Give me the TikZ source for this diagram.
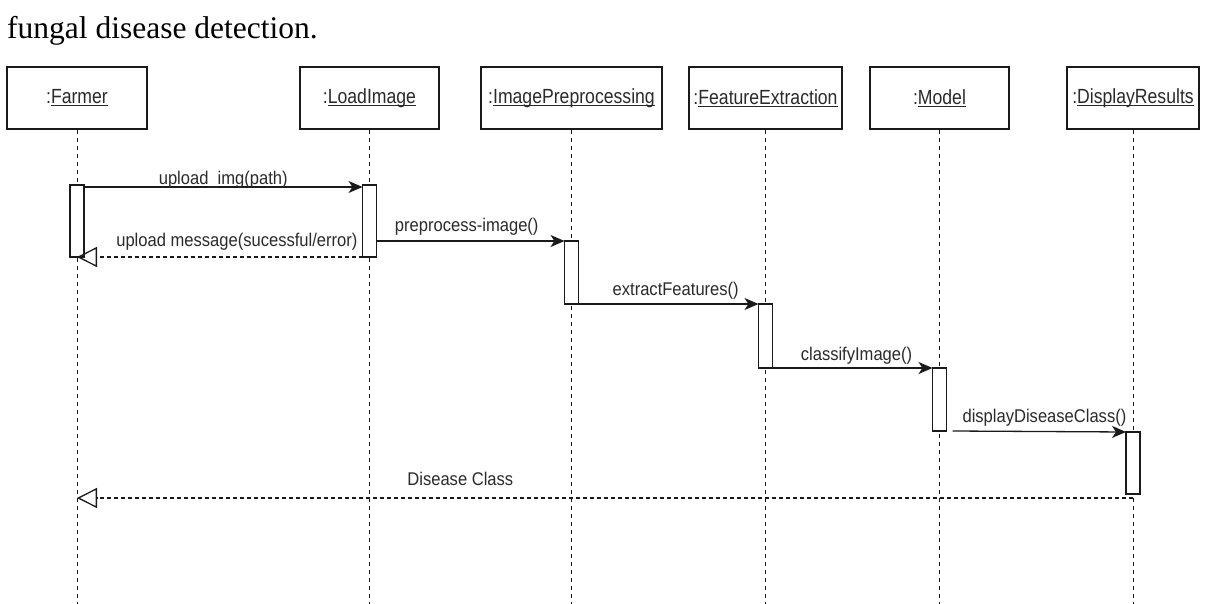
\documentclass[tikz,border=0pt]{standalone}
\usepackage{fontspec}
\setmainfont{Liberation Serif}
\newfontfamily\hsans[FakeStretch=0.86]{Liberation Sans}
\newfontfamily\msans[FakeStretch=0.9]{Liberation Sans}
\usetikzlibrary{arrows.meta}
\definecolor{txt}{HTML}{2A2A2A}
\definecolor{ln}{HTML}{1A1A1A}
\newcommand\myul[1]{\setbox0\hbox{#1}\rlap{\color{txt}\rule[-2.6pt]{\wd0}{1.1pt}}\box0}
\begin{document}
\begin{tikzpicture}[x=1pt,y=-1pt,
 head/.style={draw=ln, line width=1.4pt, fill=white, minimum height=62pt, inner sep=0pt, text=txt, font=\hsans\fontsize{20.5}{24}\selectfont},
 life/.style={draw=ln, line width=1pt, dash pattern=on 4pt off 4pt},
 act/.style={draw=ln, line width=1.3pt, fill=white, minimum width=14pt, inner sep=0pt, outer sep=0pt, anchor=north},
 msg/.style={draw=ln, line width=1.3pt, -{Stealth[length=14pt,width=12pt,inset=4pt]}},
 ret/.style={draw=ln, line width=1.1pt, dash pattern=on 4pt off 3pt, -{Triangle[open,length=20pt,width=20pt,line width=1.3pt]}},
 lbl/.style={text=txt, font=\msans\fontsize{18.4}{22}\selectfont, inner sep=0pt, anchor=base},
]
\useasboundingbox (0,0) rectangle (1205,604);
\coordinate (bot) at (0,604);

\node[anchor=base west, inner sep=0pt, font=\fontsize{31.5}{36}\selectfont] (title) at (7,39) {fungal disease detection.};

\node[head, minimum width=140pt] (farmer) at (77,98) {:\myul{Farmer}};
\node[head, minimum width=139pt] (load) at (369.5,98) {:\myul{LoadImage}};
\node[head, minimum width=181pt] (prep) at (571.5,98) {:\myul{ImagePreprocessing}};
\node[head, minimum width=153pt] (feat) at (765.5,98) {:\myul{FeatureExtraction}};
\node[head, minimum width=139pt] (model) at (939.5,98) {:\myul{Model}};
\node[head, minimum width=132pt] (disp) at (1133,98) {:\myul{DisplayResults}};

\foreach \n in {farmer,load,prep,feat,model,disp}
  \draw[life] (\n.south) -- (\n.south |- bot);

\node[act, minimum height=72pt] (afarm) at (77,185) {};
\node[act, minimum height=72pt] (aload) at (369.5,185) {};
\node[act, minimum height=63pt] (aprep) at (571.5,241) {};
\node[act, minimum height=64pt] (afeat) at (765.5,304) {};
\node[act, minimum height=63pt] (amod) at (939.5,368) {};
\node[act, minimum height=62pt] (adisp) at (1133,432) {};

\draw[msg] ([yshift=-2pt]afarm.north east) -- ([yshift=-2pt]aload.north west)
  node[lbl, pos=0.5, yshift=2pt] {upload\_img(path)};
\draw[ret] (aload.south west) -- (afarm.south)
  node[lbl, pos=0.44, yshift=10pt] {upload message(sucessful/error)};
\draw[msg] (aprep.north west -| aload.east) -- (aprep.north west)
  node[lbl, pos=0.48, yshift=9pt] {preprocess-image()};
\draw[msg] (aprep.south east) -- (afeat.north west)
  node[lbl, pos=0.54, yshift=9pt] {extractFeatures()};
\draw[msg] (afeat.south east) -- (amod.north west)
  node[lbl, pos=0.525, yshift=8pt] {classifyImage()};
\draw[msg] ([xshift=6pt]amod.south east) -- (adisp.north west)
  node[lbl, pos=0.53, yshift=9pt] {displayDiseaseClass()};
\coordinate (dc) at ([yshift=-4pt]adisp.south);
\draw[ret] (dc) -- (dc -| afarm.south)
  node[lbl, pos=0.637, yshift=13pt] {Disease Class};
\end{tikzpicture}
\end{document}
